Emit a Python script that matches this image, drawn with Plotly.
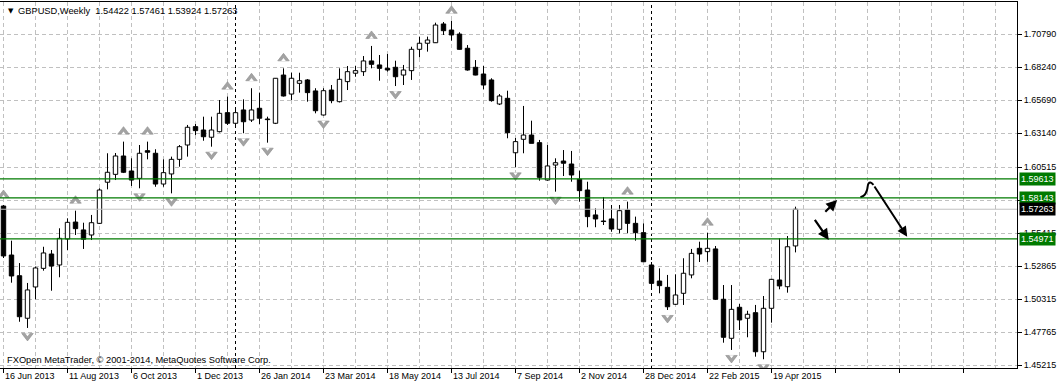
import plotly.graph_objects as go

# ---------------- data (weekly GBPUSD, bar index 0 = week of 16 Jun 2013) ----------------
date_labels = ["16 Jun 2013", "11 Aug 2013", "6 Oct 2013", "1 Dec 2013", "26 Jan 2014",
               "23 Mar 2014", "18 May 2014", "13 Jul 2014", "7 Sep 2014", "2 Nov 2014",
               "28 Dec 2014", "22 Feb 2015", "19 Apr 2015"]
bars_per_label = 8

opens = [1.5751, 1.5372, 1.5212, 1.4883, 1.5125, 1.5269, 1.5380, 1.5295, 1.5496, 1.5627,
         1.5566, 1.5527, 1.5617, 1.5935, 1.5996, 1.6138, 1.6022, 1.5965, 1.6179, 1.6159,
         1.5921, 1.5999, 1.6112, 1.6223, 1.6365, 1.6339, 1.6283, 1.6326, 1.6473, 1.6391,
         1.6494, 1.6416, 1.6507, 1.6424, 1.6391, 1.6764, 1.6617, 1.6700, 1.6726, 1.6641,
         1.6455, 1.6648, 1.6558, 1.6713, 1.6778, 1.6790, 1.6873, 1.6842, 1.6816, 1.6824,
         1.6764, 1.6798, 1.6963, 1.7010, 1.7014, 1.7159, 1.7112, 1.7081, 1.6971, 1.6824,
         1.6772, 1.6726, 1.6540, 1.6584, 1.6163, 1.6267, 1.6300, 1.6241, 1.5952, 1.6068,
         1.6099, 1.6076, 1.5958, 1.5875, 1.5682, 1.5635, 1.5651, 1.5571, 1.5720, 1.5617,
         1.5545, 1.5295, 1.5171, 1.5122, 1.4991, 1.5076, 1.5218, 1.5424, 1.5398, 1.5419,
         1.5030, 1.4728, 1.4968, 1.4883, 1.4926, 1.4624, 1.4960, 1.5179, 1.5127, 1.54422]

highs = [1.5759, 1.5483, 1.5310, 1.5156, 1.5282, 1.5436, 1.5411, 1.5579, 1.5656, 1.5715,
         1.5622, 1.5682, 1.5888, 1.6159, 1.6161, 1.6249, 1.6120, 1.6223, 1.6249, 1.6190,
         1.6112, 1.6133, 1.6223, 1.6378, 1.6385, 1.6442, 1.6442, 1.6571, 1.6597, 1.6509,
         1.6576, 1.6662, 1.6628, 1.6442, 1.6741, 1.6816, 1.6782, 1.6782, 1.6733, 1.6662,
         1.6662, 1.6687, 1.6816, 1.6834, 1.6834, 1.6911, 1.6989, 1.6919, 1.6927, 1.6875,
         1.6842, 1.6983, 1.7061, 1.7061, 1.7169, 1.7174, 1.7184, 1.7095, 1.6996, 1.6880,
         1.6834, 1.6739, 1.6617, 1.6643, 1.6277, 1.6525, 1.6411, 1.6262, 1.6223, 1.6120,
         1.6184, 1.6177, 1.6024, 1.5939, 1.5733, 1.5819, 1.5759, 1.5759, 1.5785, 1.5669,
         1.5617, 1.5318, 1.5269, 1.5218, 1.5223, 1.5347, 1.5419, 1.5475, 1.5545, 1.5442,
         1.5140, 1.5140, 1.4993, 1.4941, 1.4986, 1.5055, 1.5187, 1.5501, 1.5519, 1.57461]

lows = [1.5349, 1.5158, 1.4856, 1.4808, 1.5030, 1.5251, 1.5096, 1.5200, 1.5411, 1.5527,
        1.5419, 1.5488, 1.5612, 1.5880, 1.5952, 1.6006, 1.5906, 1.5888, 1.6112, 1.5900,
        1.5900, 1.5849, 1.6055, 1.6133, 1.6300, 1.6256, 1.6210, 1.6320, 1.6378, 1.6362,
        1.6314, 1.6401, 1.6385, 1.6241, 1.6385, 1.6598, 1.6571, 1.6628, 1.6558, 1.6468,
        1.6451, 1.6546, 1.6552, 1.6648, 1.6751, 1.6757, 1.6816, 1.6720, 1.6790, 1.6679,
        1.6687, 1.6726, 1.6901, 1.6945, 1.7012, 1.7074, 1.7030, 1.6960, 1.6798, 1.6762,
        1.6654, 1.6558, 1.6532, 1.6275, 1.6050, 1.6159, 1.6235, 1.5947, 1.5947, 1.5862,
        1.5983, 1.5939, 1.5785, 1.5587, 1.5587, 1.5604, 1.5552, 1.5540, 1.5540, 1.5483,
        1.5318, 1.5102, 1.5076, 1.4947, 1.4986, 1.4986, 1.5192, 1.5318, 1.5320, 1.5024,
        1.4694, 1.4638, 1.4792, 1.4736, 1.4586, 1.4566, 1.4849, 1.5107, 1.5081, 1.53924]

closes = [1.5365, 1.5210, 1.4895, 1.5102, 1.5272, 1.5388, 1.5287, 1.5501, 1.5625, 1.5576,
          1.5494, 1.5622, 1.5875, 1.6012, 1.6138, 1.6012, 1.5952, 1.6159, 1.6167, 1.5921,
          1.6009, 1.6112, 1.6210, 1.6360, 1.6334, 1.6287, 1.6339, 1.6468, 1.6391, 1.6473,
          1.6403, 1.6494, 1.6430, 1.6419, 1.6739, 1.6602, 1.6739, 1.6720, 1.6628, 1.6488,
          1.6643, 1.6566, 1.6731, 1.6790, 1.6798, 1.6873, 1.6847, 1.6816, 1.6803, 1.6751,
          1.6803, 1.6963, 1.7010, 1.7035, 1.7151, 1.7107, 1.7074, 1.6963, 1.6803, 1.6764,
          1.6687, 1.6566, 1.6602, 1.6318, 1.6249, 1.6300, 1.6236, 1.5973, 1.6061, 1.6086,
          1.6082, 1.5991, 1.5870, 1.5669, 1.5651, 1.5631, 1.5573, 1.5715, 1.5617, 1.5545,
          1.5320, 1.5153, 1.5135, 1.4972, 1.5063, 1.5231, 1.5385, 1.5380, 1.5424, 1.5030,
          1.4736, 1.4952, 1.4870, 1.4914, 1.4624, 1.4960, 1.5184, 1.5133, 1.5436, 1.57263]

up_fractal_bars = [0, 9, 15, 18, 28, 31, 35, 46, 56, 78, 88]
down_fractal_bars = [3, 17, 21, 26, 30, 33, 40, 49, 64, 69, 83, 91, 95]

year_start_bars = [29, 81]

green_levels = [1.59613, 1.58143, 1.54971]
bid_level = 1.57263

price_tick_vals = [1.70790, 1.68240, 1.65690, 1.63140, 1.60515, 1.57965, 1.55415,
                   1.52865, 1.50315, 1.47765, 1.45215]
price_tick_text = ["1.70790", "1.68240", "1.65690", "1.63140", "1.60515", "",
                   "1.55415", "1.52865", "1.50315", "1.47765", "1.45215"]

title_text = "GBPUSD,Weekly\u00a0\u00a01.54422\u00a01.57461\u00a01.53924\u00a01.57263"
copyright_text = "FXOpen MetaTrader, \u00a9 2001-2014, MetaQuotes Software Corp."

# hand-drawn forecast arrows (bar index, price)
arrow_up = dict(tail=(102.54, 1.5695), head=(104.21, 1.5798))
arrow_down = dict(tail=(101.29, 1.5656), head=(103.16, 1.5488))
curve_x = [107.12, 107.62, 107.94, 108.12, 108.37, 108.75]
curve_y = [1.5819, 1.5836, 1.5875, 1.5925, 1.5933, 1.5914]
curve_head = (112.96, 1.5514)

# ---------------- geometry / style ----------------
W, H = 1060, 386
ML, MR, MT, MB = 0, 43, 2, 18
PW, PH = W - ML - MR, H - MT - MB
PX_PER_BAR = 8
PX_PER_PRICE = 1293.0
x_start = -0.4375
x_range = [x_start, x_start + PW / PX_PER_BAR]
y_bottom = 1.45215 - 3 / PX_PER_PRICE
y_range = [y_bottom, y_bottom + PH / PX_PER_PRICE]

FONT = "Liberation Sans, Arial, sans-serif"
GRID = "#c0c0c0"
GREEN = "#007a00"
FRACTAL_FILL = "#a3a3a3"
FRACTAL_EDGE = "#8a8a8a"

n = len(opens)
idx = list(range(n))
bull = [i for i in idx if closes[i] >= opens[i]]
bear = [i for i in idx if closes[i] < opens[i]]
MIN_BODY = 0.0003


def body(i):
    lo = min(opens[i], closes[i])
    hi = max(opens[i], closes[i])
    return lo, max(hi - lo, MIN_BODY)


def px(p):
    """pixel distance -> price distance"""
    return p / PX_PER_PRICE


fig = go.Figure()

# wicks (drawn as two segments so they don't cross the bodies)
wx, wy = [], []
for i in idx:
    top = max(opens[i], closes[i])
    bot = min(opens[i], closes[i])
    if highs[i] > top:
        wx += [i, i, None]
        wy += [top, highs[i], None]
    if lows[i] < bot:
        wx += [i, i, None]
        wy += [bot, lows[i], None]

for group, fill in ((bull, "white"), (bear, "black")):
    fig.add_trace(go.Bar(
        x=group,
        base=[body(i)[0] for i in group],
        y=[body(i)[1] for i in group],
        width=0.55,
        marker=dict(color=fill, line=dict(color="black", width=1)),
        hoverinfo="skip", showlegend=False,
    ))

fig.add_trace(go.Scatter(x=wx, y=wy, mode="lines",
                         line=dict(color="black", width=1),
                         hoverinfo="skip", showlegend=False))

# fractal markers: grey arrow heads with a small notch
up_y = [highs[i] + px(10) for i in up_fractal_bars]
down_y = [lows[i] - px(8) for i in down_fractal_bars]
fig.add_trace(go.Scatter(
    x=up_fractal_bars, y=up_y, mode="markers",
    marker=dict(symbol="triangle-up", size=10, color=FRACTAL_FILL,
                line=dict(color=FRACTAL_EDGE, width=0.6)),
    hoverinfo="skip", showlegend=False))
fig.add_trace(go.Scatter(
    x=up_fractal_bars, y=[v - px(1.8) for v in up_y], mode="markers",
    marker=dict(symbol="triangle-up", size=4, color="white", line=dict(width=0)),
    hoverinfo="skip", showlegend=False))
fig.add_trace(go.Scatter(
    x=down_fractal_bars, y=down_y, mode="markers",
    marker=dict(symbol="triangle-down", size=10, color=FRACTAL_FILL,
                line=dict(color=FRACTAL_EDGE, width=0.6)),
    hoverinfo="skip", showlegend=False))
fig.add_trace(go.Scatter(
    x=down_fractal_bars, y=[v + px(1.8) for v in down_y], mode="markers",
    marker=dict(symbol="triangle-down", size=4, color="white", line=dict(width=0)),
    hoverinfo="skip", showlegend=False))

# hand drawn curve
fig.add_trace(go.Scatter(x=curve_x, y=curve_y, mode="lines",
                         line=dict(color="black", width=2, shape="spline"),
                         hoverinfo="skip", showlegend=False))

shapes = []
for lvl in green_levels:
    shapes.append(dict(type="line", xref="paper", x0=0, x1=1, yref="y", y0=lvl, y1=lvl,
                       line=dict(color=GREEN, width=1.2), layer="above"))
shapes.append(dict(type="line", xref="paper", x0=0, x1=1, yref="y", y0=bid_level, y1=bid_level,
                   line=dict(color=GRID, width=1), layer="above"))
for b in year_start_bars:
    shapes.append(dict(type="line", xref="x", x0=b, x1=b, yref="paper", y0=0, y1=1,
                       line=dict(color="black", width=1, dash="3px,3px"), layer="below"))

annotations = []
# title
annotations.append(dict(text="\u25bc", xref="paper", yref="paper", x=6 / PW, y=(PH - 9) / PH,
                        xanchor="left", yanchor="middle", showarrow=False,
                        font=dict(family="DejaVu Sans", size=7, color="black")))
annotations.append(dict(text=title_text, xref="paper", yref="paper", x=16 / PW, y=(PH - 9) / PH,
                        xanchor="left", yanchor="middle", showarrow=False,
                        font=dict(family=FONT, size=9.3, color="black")))
annotations.append(dict(text=copyright_text, xref="paper", yref="paper", x=5 / PW, y=8 / PH,
                        xanchor="left", yanchor="middle", showarrow=False,
                        font=dict(family=FONT, size=9.3, color="black")))
# date labels
for k, lab in enumerate(date_labels):
    annotations.append(dict(text=lab, xref="x", yref="paper", x=k * bars_per_label, y=0,
                            xanchor="left", yanchor="top", yshift=-1, xshift=-1,
                            showarrow=False, font=dict(family=FONT, size=9, color="black")))
# level labels on the price scale
for lvl in green_levels:
    annotations.append(dict(text=f"{lvl:.5f}", xref="paper", yref="y", x=1, y=lvl,
                            xanchor="left", yanchor="middle", xshift=2, showarrow=False,
                            bgcolor=GREEN, borderpad=1,
                            font=dict(family=FONT, size=9, color="white")))
annotations.append(dict(text=f"{bid_level:.5f}", xref="paper", yref="y", x=1, y=bid_level,
                        xanchor="left", yanchor="middle", xshift=2, showarrow=False,
                        bgcolor="black", borderpad=1,
                        font=dict(family=FONT, size=9, color="white")))
# forecast arrows
for arr in (arrow_up, arrow_down):
    annotations.append(dict(x=arr["head"][0], y=arr["head"][1], ax=arr["tail"][0], ay=arr["tail"][1],
                            xref="x", yref="y", axref="x", ayref="y", text="", showarrow=True,
                            arrowhead=2, arrowsize=1, arrowwidth=2.2, arrowcolor="black"))
annotations.append(dict(x=curve_head[0], y=curve_head[1], ax=curve_x[-1], ay=curve_y[-1],
                        xref="x", yref="y", axref="x", ayref="y", text="", showarrow=True,
                        arrowhead=2, arrowsize=1, arrowwidth=2, arrowcolor="black"))

major_x = list(range(0, int(x_range[1]) + 1, bars_per_label))
minor_x = list(range(0, int(x_range[1]) + 1, bars_per_label // 2))

fig.update_layout(
    width=W, height=H,
    margin=dict(l=ML, r=MR, t=MT, b=MB, pad=0),
    paper_bgcolor="white", plot_bgcolor="white",
    barmode="overlay",
    showlegend=False,
    shapes=shapes,
    annotations=annotations,
    font=dict(family=FONT, size=9, color="black"),
    xaxis=dict(range=x_range, tickmode="array", tickvals=major_x, ticktext=[""] * len(major_x),
               ticks="outside", ticklen=4, tickcolor="black", showticklabels=False,
               showgrid=True, gridcolor=GRID, griddash="4px,3px", gridwidth=1,
               minor=dict(tickmode="array", tickvals=minor_x, showgrid=True, gridcolor=GRID,
                          griddash="4px,3px", ticks=""),
               showline=True, linecolor="black", linewidth=1, mirror=True,
               zeroline=False, fixedrange=True),
    yaxis=dict(range=y_range, side="right", tickmode="array", tickvals=price_tick_vals,
               ticktext=price_tick_text, ticks="outside", ticklen=4, tickcolor="black",
               tickfont=dict(family=FONT, size=9, color="black"),
               showgrid=True, gridcolor=GRID, griddash="4px,3px", gridwidth=1,
               showline=True, linecolor="black", linewidth=1, mirror=True,
               zeroline=False, fixedrange=True),
)

fig.write_html("out.html")
